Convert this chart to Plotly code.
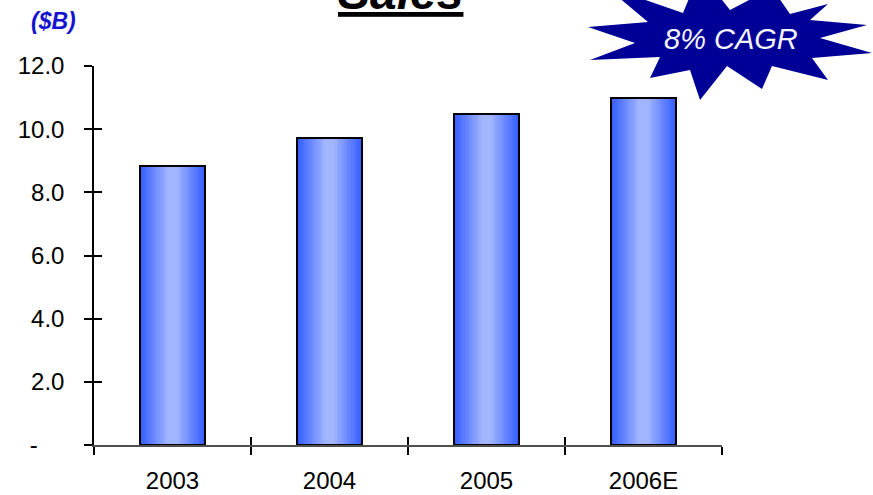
import plotly.graph_objects as go

# Annual sales, $ billions
years = ["2003", "2004", "2005", "2006E"]
sales = [8.83, 9.72, 10.47, 11.0]

# Value-axis ticks (zero shown as a dash, accounting style)
y_tickvals = [0, 2, 4, 6, 8, 10, 12]
y_ticktext = ["-\u00a0\u00a0\u00a0\u00a0", "2.0", "4.0", "6.0", "8.0", "10.0", "12.0"]

FONT = "Liberation Sans, Arial, sans-serif"
BAR_W = 0.41
EDGE = (55, 95, 255)
CENTER = (162, 182, 255)

# plot area in page pixels (used to place decorations outside the axes)
L, R, T, B = 94, 151, 66, 50
W_PX, H_PX = 873, 495
PW, PH = W_PX - L - R, H_PX - T - B


def px_to_paper(px, py):
    return (px - L) / PW, (H_PX - B - py) / PH


def mix(f):
    return "rgb(%d,%d,%d)" % tuple(round(e + (c - e) * f) for e, c in zip(EDGE, CENTER))


fig = go.Figure()

# Cylinder-like horizontal shading: nested bars, lighter toward the middle
N = 18
for k in range(N):
    d = 1 - k / N                     # relative half-width of this layer
    f = min(1.0, (1 - d) / 0.85)
    fig.add_trace(go.Bar(
        x=years, y=sales, width=BAR_W * d,
        marker=dict(color=mix(f), line=dict(width=0)),
        showlegend=False, hoverinfo="skip",
    ))

# Black outline around each bar
fig.add_trace(go.Bar(
    x=years, y=sales, width=BAR_W,
    marker=dict(color="rgba(0,0,0,0)", line=dict(color="black", width=2)),
    showlegend=False, hovertemplate="%{x}: %{y:.1f}<extra></extra>",
))

# Empty trace so the inside-tick overlay axes are drawn
fig.add_trace(go.Scatter(x=[], y=[], xaxis="x2", yaxis="y2", showlegend=False))

# Starburst badge
star_px = [
    (588, 27), (648, 22), (605, -14), (683, 13), (700, -28), (730, 10),
    (772, -12), (790, 14), (828, 4), (810, 20), (867, 25), (820, 38),
    (872, 53), (812, 58), (828, 80), (772, 66), (762, 89), (727, 66),
    (700, 100), (690, 70), (650, 78), (660, 57), (590, 60), (635, 43),
]
cx, cy = 730, 40
path = "M " + " L ".join("%g,%g" % (x - cx, cy - y) for x, y in star_px) + " Z"
ax, ay = px_to_paper(cx, cy)
fig.add_shape(
    type="path", path=path, xref="paper", yref="paper",
    xsizemode="pixel", ysizemode="pixel", xanchor=ax, yanchor=ay,
    fillcolor="#000096", line=dict(width=0), layer="above",
)

tx, ty = px_to_paper(731, 38.5)
fig.add_annotation(
    text="<i>8% CAGR</i>", x=tx, y=ty, xref="paper", yref="paper",
    xanchor="center", yanchor="middle", showarrow=False,
    font=dict(family=FONT, size=29, color="#f4f4ff"),
)

sx, sy = px_to_paper(400, 21)
fig.add_annotation(
    text="<b><i>Sales</i></b>", x=sx, y=sy, xref="paper", yref="paper",
    xanchor="center", yanchor="bottom", showarrow=False,
    font=dict(family=FONT, size=48, color="black", lineposition="under"),
)

ux, uy = px_to_paper(53, 21)
fig.add_annotation(
    text="<b><i>($B)</i></b>", x=ux, y=uy, xref="paper", yref="paper",
    xanchor="center", yanchor="middle", showarrow=False,
    font=dict(family=FONT, size=23, color="#1414D0"),
)

fig.update_layout(
    width=W_PX, height=H_PX,
    margin=dict(l=L, r=R, t=T, b=B, pad=0),
    paper_bgcolor="white", plot_bgcolor="white",
    barmode="overlay", bargap=0,
    font=dict(family=FONT, size=24, color="black"),
    xaxis=dict(
        type="category", range=[-0.5, 3.5], tickson="boundaries",
        ticks="outside", ticklen=8, tickwidth=1.5, tickcolor="black",
        showline=True, linecolor="#505050", linewidth=2,
        showgrid=False, zeroline=False, ticklabelstandoff=13,
        tickfont=dict(size=24), automargin=False,
    ),
    yaxis=dict(
        range=[0, 12], tickvals=y_tickvals, ticktext=y_ticktext,
        ticks="outside", ticklen=8, tickwidth=1.5, tickcolor="black",
        showline=True, linecolor="black", linewidth=1.5,
        showgrid=False, zeroline=False, ticklabelstandoff=15,
        tickfont=dict(size=24), automargin=False,
    ),
    xaxis2=dict(
        overlaying="x", anchor="y", side="bottom", range=[-0.5, 3.5],
        tickvals=[-0.5, 0.5, 1.5, 2.5, 3.5], ticks="inside", ticklen=8,
        tickwidth=1.5, tickcolor="black", showticklabels=False,
        showgrid=False, zeroline=False, showline=False, automargin=False,
    ),
    yaxis2=dict(
        overlaying="y", anchor="x", side="left", range=[0, 12],
        tickvals=y_tickvals, ticks="inside", ticklen=8,
        tickwidth=1.5, tickcolor="black", showticklabels=False,
        showgrid=False, zeroline=False, showline=False, automargin=False,
    ),
)

fig.write_html("out.html")
